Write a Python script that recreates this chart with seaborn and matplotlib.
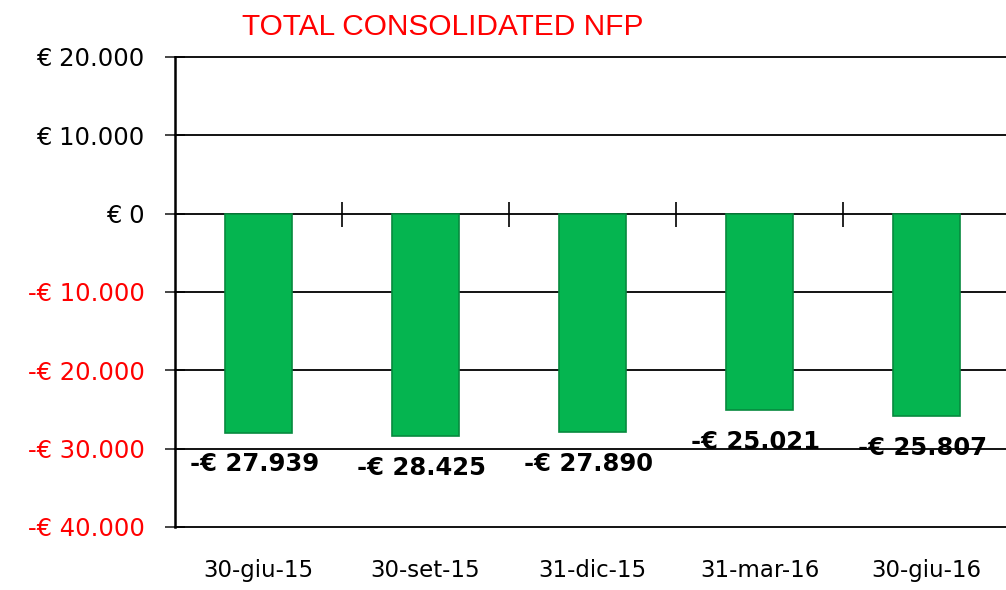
import matplotlib.pyplot as plt
import seaborn as sns
import pandas as pd

dates = ['30-giu-15', '30-set-15', '31-dic-15', '31-mar-16', '30-giu-16']
nfp = [-27939, -28425, -27890, -25021, -25807]
yticks = [20000, 10000, 0, -10000, -20000, -30000, -40000]

df = pd.DataFrame({'date': dates, 'nfp': nfp})


def euro(v):
    s = f"{abs(v):,.0f}".replace(',', '.')
    return f"-€ {s}" if v < 0 else f"€ {s}"


sns.set_style('white')
plt.rcParams['font.family'] = ['DejaVu Sans']
plt.rcParams['text.color'] = 'black'

fig = plt.figure(figsize=(10.06, 5.9), dpi=100)
ax = fig.add_axes([0.174, 0.1068, 0.830, 0.7966])

sns.barplot(data=df, x='date', y='nfp', color='#05B550', width=0.4,
            edgecolor='#078a3e', linewidth=1.2, saturation=1, ax=ax, zorder=3)

ax.set_ylim(-40000, 20000)
ax.set_xlim(-0.5, len(dates) - 0.5)
ax.set_yticks(yticks)
ax.set_yticklabels([euro(v) for v in yticks], fontsize=17.5)
for lab, v in zip(ax.get_yticklabels(), yticks):
    lab.set_color('red' if v < 0 else 'black')
ax.tick_params(axis='y', direction='inout', length=14, width=1.2, pad=15, left=True)

for v in yticks:
    ax.axhline(v, color='black', lw=1.3, zorder=1, clip_on=False)

for s in ['top', 'right']:
    ax.spines[s].set_visible(False)
ax.spines['left'].set_linewidth(1.8)
ax.spines['left'].set_color('black')
ax.spines['bottom'].set_position(('data', 0))
ax.spines['bottom'].set_visible(False)

# category boundaries as ticks crossing the zero line
ax.set_xticks([i + 0.5 for i in range(len(dates) - 1)], minor=True)
ax.tick_params(axis='x', which='minor', direction='inout', length=18, width=1.2,
               bottom=True, color='black')
ax.set_xticks([])
ax.set_xlabel('')
ax.set_ylabel('')

for i, d in enumerate(dates):
    ax.text(i, -0.092, d, transform=ax.get_xaxis_transform(), ha='center',
            va='center', fontsize=16.5, color='black', clip_on=False)

for i, v in enumerate(nfp):
    ax.annotate(euro(v), (i, v), xytext=(-3, -23), textcoords='offset points',
                ha='center', va='center', fontsize=17.5, fontweight='bold',
                color='black')

fig.text(0.44, 0.955, 'TOTAL CONSOLIDATED NFP', color='red', fontsize=21.5,
         ha='center', va='center',
         family=['Liberation Sans Narrow', 'Liberation Sans', 'DejaVu Sans'])

fig.savefig('out.png', dpi=100)
